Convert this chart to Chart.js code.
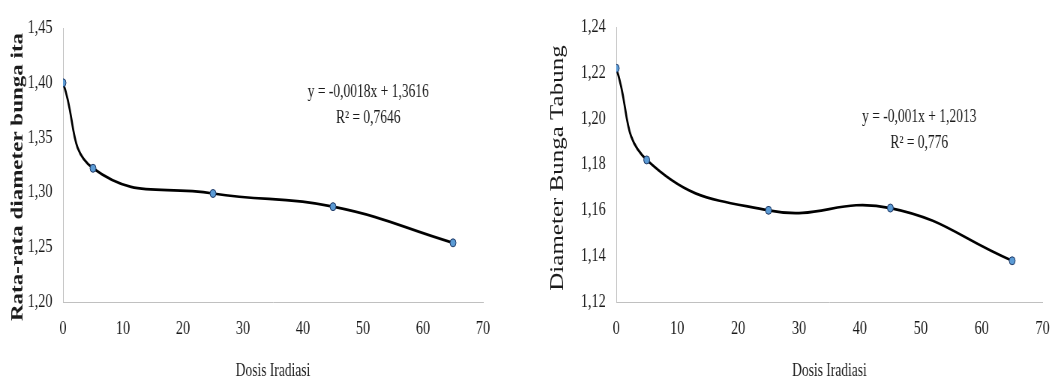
<!DOCTYPE html>
<html><head><meta charset="utf-8">
<script src="https://cdn.jsdelivr.net/npm/chart.js@4.4.1/dist/chart.umd.min.js"></script>
<style>
html,body{margin:0;padding:0;background:#fff;}
#wrap{position:relative;width:1062px;height:379px;overflow:hidden;background:#fff;}
.panel{position:absolute;top:0;height:379px;transform:scaleX(0.75);transform-origin:0 0;}
#p1{left:0;width:707px;}
#p2{left:530px;width:709px;}
</style></head><body>
<div id="wrap">
  <div class="panel" id="p1"><canvas id="c1"></canvas></div>
  <div class="panel" id="p2"><canvas id="c2"></canvas></div>
</div>
<script>
const doses = [0, 5, 25, 45, 65];
const diameterBungaIta = [1.400, 1.322, 1.299, 1.287, 1.254];
const diameterBungaTabung = [1.222, 1.182, 1.160, 1.161, 1.138];
const xTicks = [0, 10, 20, 30, 40, 50, 60, 70];
const leftYTicks = [1.20, 1.25, 1.30, 1.35, 1.40, 1.45];
const rightYTicks = [1.12, 1.14, 1.16, 1.18, 1.20, 1.22, 1.24];
const leftEquation = ['y = -0,0018x + 1,3616', 'R\u00B2 = 0,7646'];
const rightEquation = ['y = -0,001x + 1,2013', 'R\u00B2 = 0,776'];
const xTitle = 'Dosis Iradiasi';
const leftYTitle = 'Rata-rata diameter bunga ita';
const rightYTitle = 'Diameter Bunga Tabung';

const SERIF = '"Liberation Serif", "Times New Roman", serif';
const TEXT = '#1a1a1a';

const annotPlugin = {
  id: 'annot',
  afterDraw(chart, args, o) {
    const ctx = chart.ctx;
    ctx.save();
    ctx.fillStyle = TEXT;
    ctx.font = o.yTitleFont;
    ctx.textAlign = 'center';
    ctx.textBaseline = 'middle';
    ctx.translate(o.yTitleX, o.yTitleY);
    ctx.rotate(-Math.PI / 2);
    ctx.fillText(o.yTitle, 0, 0);
    ctx.restore();
    ctx.save();
    ctx.fillStyle = TEXT;
    ctx.font = '18px ' + SERIF;
    ctx.textAlign = 'center';
    ctx.textBaseline = 'middle';
    o.eq.forEach((t, i) => ctx.fillText(t, o.eqX, o.eqY[i]));
    ctx.restore();
  }
};

function makeChart(id, values, yTicks, yDecimals, cfg) {
  const data = doses.map((d, i) => ({x: d, y: values[i]}));
  return new Chart(document.getElementById(id), {
    type: 'scatter',
    data: {
      datasets: [{
        data: data,
        showLine: true,
        borderColor: '#000000',
        borderWidth: 2.7,
        tension: 0.45,
        pointRadius: 4,
        pointHoverRadius: 4,
        pointBackgroundColor: '#5b9bd5',
        pointBorderColor: '#1f3864',
        pointBorderWidth: 1
      }]
    },
    options: {
      responsive: true,
      maintainAspectRatio: false,
      animation: false,
      devicePixelRatio: 1,
      layout: {padding: {top: cfg.top, right: cfg.right, bottom: 0, left: 0}},
      plugins: {
        legend: {display: false},
        tooltip: {enabled: false},
        annot: cfg.annot
      },
      scales: {
        x: {
          type: 'linear',
          min: 0, max: 70,
          afterBuildTicks: s => { s.ticks = xTicks.map(v => ({value: v})); },
          afterFit: s => { s.height = 379 - cfg.bottom; },
          grid: {display: false, drawTicks: false},
          border: {display: true, color: '#c0c0c0', width: 1},
          ticks: {padding: 16, color: TEXT, font: {family: SERIF, size: 19}, maxRotation: 0,
                  callback: v => String(v)},
          title: {display: true, text: xTitle, color: TEXT, font: {family: SERIF, size: 18},
                  padding: {top: 0, bottom: -3}}
        },
        y: {
          type: 'linear',
          min: yTicks[0], max: yTicks[yTicks.length - 1],
          afterBuildTicks: s => { s.ticks = yTicks.map(v => ({value: v})); },
          afterFit: s => { s.width = cfg.plotLeft; },
          grid: {display: false, drawTicks: false},
          border: {display: true, color: '#c0c0c0', width: 1},
          ticks: {padding: 14, color: TEXT, font: {family: SERIF, size: 19},
                  callback: v => Number(v).toFixed(yDecimals).replace('.', ',')}
        }
      }
    },
    plugins: [annotPlugin]
  });
}

makeChart('c1', diameterBungaIta, leftYTicks, 2, {
  top: 28, right: 63, bottom: 302, plotLeft: 84,
  annot: {
    yTitle: leftYTitle, yTitleFont: 'bold 23px ' + SERIF, yTitleX: 24, yTitleY: 177,
    eq: leftEquation, eqX: 491, eqY: [92, 118]
  }
});
makeChart('c2', diameterBungaTabung, rightYTicks, 2, {
  top: 27, right: 13, bottom: 302, plotLeft: 115,
  annot: {
    yTitle: rightYTitle, yTitleFont: '25px ' + SERIF, yTitleX: 37, yTitleY: 168,
    eq: rightEquation, eqX: 519, eqY: [117, 143]
  }
});
</script>
</body></html>
